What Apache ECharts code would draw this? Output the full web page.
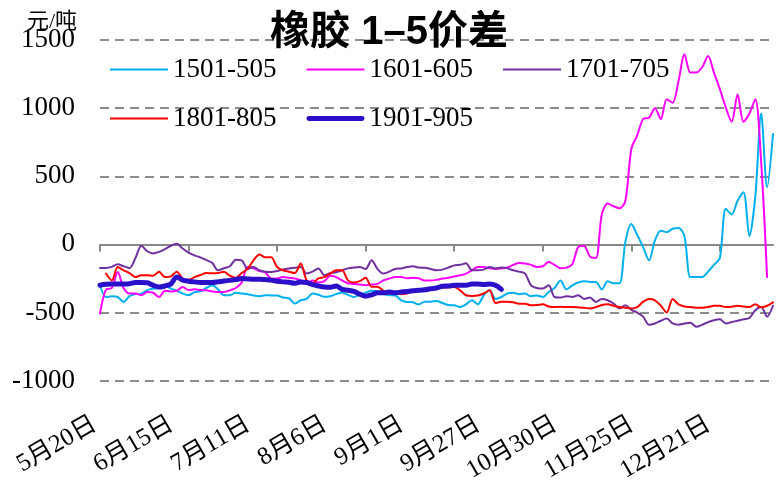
<!DOCTYPE html>
<html>
<head>
<meta charset="utf-8">
<script src="https://cdn.jsdelivr.net/npm/echarts@6/dist/echarts.min.js"></script>
<style>
  body { margin: 0; background: #fff; }
  #chart { width: 778px; height: 485px; }
</style>
</head>
<body>
<div id="chart"></div>
<script>
// 日期轴：每两天一个点，国庆 10/1-10/7 不算
var days = [];
var d = new Date(2001, 4, 20);
while (days.length < 230) {
  if (!(d.getMonth() === 9 && d.getDate() <= 7)) {
    days.push((d.getMonth() + 1) + '月' + d.getDate() + '日');
  }
  d.setDate(d.getDate() + 1);
}
var categories = days.filter(function (x, i) { return i % 2 === 0; });

var names = ['1501-505', '1601-605', '1701-705', '1801-805', '1901-905'];

var s1501 = [-300,-386,-380,-386,-422,-380,-365,-361,-335,-325,
  -320,-300,-324,-340,-360,-373,-350,-345,-320,-300,
  -330,-373,-373,-355,-361,-365,-375,-380,-373,-375,
  -375,-390,-395,-434,-410,-400,-360,-370,-385,-380,
  -365,-355,-370,-386,-370,-355,-340,-345,-365,-373,
  -375,-410,-422,-425,-440,-420,-420,-415,-430,-445,
  -447,-459,-440,-410,-440,-373,-337,-400,-386,-360,
  -355,-365,-360,-380,-375,-386,-349,-320,-264,-330,
  -300,-280,-270,-275,-275,-330,-270,-285,-285,20,
  150,70,-20,-117,30,100,90,115,120,60,
  -240,-240,-240,-200,-150,-100,261,220,320,383,
  60,350,960,420,810];

var s1601 = [-507,-332,-320,-203,-320,-361,-361,-373,-350,-355,
  -386,-340,-345,-340,-313,-335,-330,-335,-337,-345,
  -350,-349,-337,-320,-280,-166,-175,-195,-205,-251,
  -250,-240,-245,-250,-265,-285,-265,-280,-270,-230,
  -240,-264,-285,-290,-295,-300,-295,-290,-264,-251,
  -240,-240,-248,-245,-248,-265,-265,-260,-251,-245,
  -235,-227,-215,-190,-166,-166,-175,-180,-176,-170,
  -150,-137,-140,-150,-165,-160,-130,-150,-175,-170,
  -145,-20,-10,-90,-100,220,300,280,265,320,
  700,800,920,930,1000,920,1066,1040,1200,1396,
  1261,1261,1300,1383,1260,1140,1005,900,1100,900,
  960,1066,600,-240];

var s1701 = [-173,-173,-165,-146,-160,-173,-100,-10,-50,-66,
  -55,-35,-10,5,-30,-60,-80,-95,-115,-135,
  -190,-175,-160,-112,-117,-180,-166,-190,-200,-203,
  -195,-185,-176,-172,-166,-214,-200,-176,-227,-210,
  -205,-190,-176,-170,-166,-180,-117,-180,-214,-200,
  -180,-176,-166,-160,-170,-172,-180,-190,-185,-170,
  -154,-150,-139,-190,-190,-185,-166,-176,-170,-176,
  -190,-200,-214,-300,-320,-324,-300,-386,-390,-380,
  -386,-373,-400,-390,-422,-400,-410,-434,-470,-447,
  -480,-500,-530,-590,-580,-560,-544,-580,-590,-580,
  -575,-605,-590,-570,-556,-550,-580,-570,-560,-550,
  -540,-483,-460,-530,-450];

var s1801 = [null,-214,-264,-166,-190,-210,-240,-227,-227,-230,
  -200,-240,-235,-200,-250,-260,-240,-225,-210,-212,
  -210,-200,-230,-245,-210,-180,-117,-75,-95,-95,
  -166,-190,-200,-210,-141,-264,-283,-250,-240,-214,
  -190,-190,-264,-280,-270,-245,-310,-310,-340,-361,
  -361,-365,-360,-345,-337,-330,-320,-317,-317,-315,
  -313,-337,-373,-378,-375,-360,-337,-430,-420,-420,
  -425,-435,-435,-447,-445,-440,-455,-460,-458,-460,
  -460,-462,-465,-471,-460,-445,-440,-450,-460,-465,
  -470,-460,-420,-400,-410,-450,-500,-400,-440,-455,
  -460,-465,-465,-460,-450,-450,-460,-458,-450,-455,
  -460,-440,-462,-450,-425];

var s1901 = [-300,-293,-290,-290,-290,-288,-280,-280,-282,-300,
  -313,-305,-290,-240,-262,-270,-275,-280,-280,-280,
  -275,-268,-264,-258,-251,-253,-255,-255,-258,-262,
  -270,-275,-278,-285,-275,-280,-295,-305,-313,-315,
  -305,-330,-337,-345,-365,-380,-370,-355,-355,-350,
  -355,-350,-345,-340,-337,-333,-325,-320,-307,-305,
  -300,-300,-300,-290,-290,-295,-290,-300,-330];

var serif = "'Liberation Serif', 'Noto Sans CJK SC', serif";

// 图例里只画一段线
var thinIcon = 'path://M0 0H60V2H0Z';
var thickIcon = 'path://M2.5 0H57.5A2.5 2.5 0 0 1 57.5 5H2.5A2.5 2.5 0 0 1 2.5 0Z';

function line(name, data, color, width) {
  return {
    name: name,
    type: 'line',
    data: data,
    symbol: 'none',
    smooth: 0.3,
    lineStyle: { color: color, width: width, cap: 'round' },
    itemStyle: { color: color }
  };
}

var legendBase = {
  left: 105,
  itemWidth: 58,
  itemHeight: 14,
  itemGap: 30,
  textStyle: { fontFamily: serif, fontSize: 27, color: '#000' }
};

var option = {
  animation: false,
  title: [
    {
      text: '橡胶 1–5价差',
      left: 'center',
      top: 8,
      textStyle: {
        fontFamily: "'Liberation Sans', 'Noto Sans CJK SC', sans-serif",
        fontSize: 40,
        fontWeight: 'bold',
        color: '#000'
      }
    },
    {
      text: '元/吨',
      left: 22,
      top: 6,
      textStyle: { fontFamily: serif, fontSize: 22, fontWeight: 'normal', color: '#000' }
    }
  ],
  legend: [
    Object.assign({}, legendBase, {
      top: 51,
      data: names.slice(0, 3).map(function (n) { return { name: n, icon: thinIcon }; })
    }),
    Object.assign({}, legendBase, {
      top: 100,
      data: [{ name: names[3], icon: thinIcon }, { name: names[4], icon: thickIcon }]
    })
  ],
  grid: { left: 100, right: 5, top: 40, bottom: 104 },
  xAxis: {
    type: 'category',
    data: categories,
    boundaryGap: false,
    axisLine: { lineStyle: { color: '#888', width: 2 } },
    axisTick: { interval: 14, length: 7, lineStyle: { color: '#888', width: 2 } },
    axisLabel: {
      interval: 12,
      rotate: 30,
      margin: 39,
      padding: [0, 6, 0, 0],
      fontFamily: serif,
      fontSize: 25,
      color: '#000'
    },
    splitLine: { show: false }
  },
  yAxis: {
    type: 'value',
    min: -1000,
    max: 1500,
    interval: 500,
    axisLine: { show: false },
    axisTick: { show: false },
    axisLabel: {
      margin: 25,
      fontFamily: serif,
      fontSize: 27,
      color: '#000',
      formatter: function (v) { return String(v); }
    },
    splitLine: { lineStyle: { color: '#8c8c8c', width: 2, type: [9, 6] } }
  },
  series: [
    line(names[0], s1501, '#00b0f0', 2),
    line(names[1], s1601, '#ff00ff', 2),
    line(names[2], s1701, '#7030a0', 2),
    line(names[3], s1801, '#ff0000', 2),
    line(names[4], s1901, '#2a10c8', 5)
  ]
};

var chart = echarts.init(document.getElementById('chart'));
chart.setOption(option);
</script>
</body>
</html>
